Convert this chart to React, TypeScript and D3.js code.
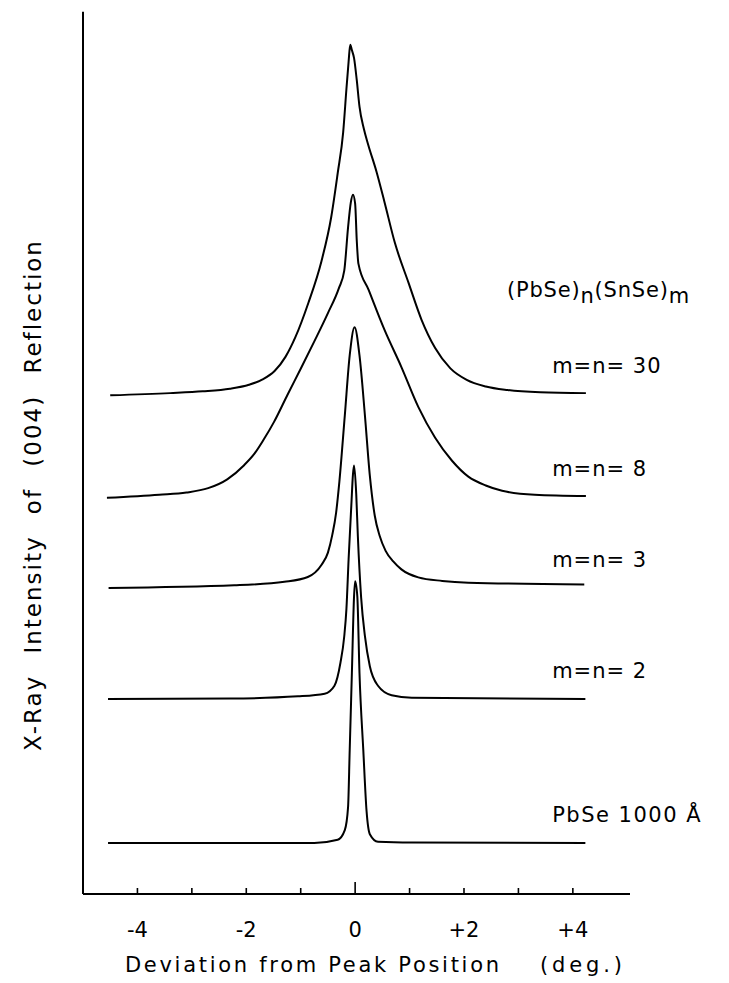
import React, { useEffect, useRef } from "react";
import * as d3 from "d3";

const WIDTH = 729;
const HEIGHT = 983;

// deviation from peak (deg) and intensity (arb. units)
const dev30 = [-4.5, -3.4, -2.8, -2.3, -1.95, -1.7, -1.48, -1.28, -1.1, -0.86, -0.62, -0.44, -0.32, -0.22, -0.16, -0.12, -0.09, -0.06, -0.02, 0.03, 0.08, 0.16, 0.24, 0.39, 0.54, 0.73, 0.98, 1.22, 1.47, 1.75, 2.05, 2.4, 2.8, 3.4, 4.24];
const int30 = [-0.15, 0.1, 0.3, 0.6, 1.05, 1.65, 2.6, 4.2, 6.4, 10.3, 15.0, 20.0, 25.0, 29.6, 34.5, 37.6, 39.5, 38.9, 38.0, 35.5, 32.5, 30.0, 28.2, 25.2, 21.7, 17.1, 12.6, 8.4, 5.2, 2.9, 1.6, 0.85, 0.45, 0.2, 0.1];

const dev8 = [-4.56, -3.6, -3.1, -2.7, -2.35, -2.04, -1.85, -1.68, -1.49, -1.24, -1.0, -0.75, -0.5, -0.3, -0.2, -0.13, -0.08, -0.04, 0.0, 0.03, 0.06, 0.25, 0.54, 0.85, 1.16, 1.47, 1.78, 2.08, 2.4, 2.7, 3.3, 4.24];
const int8 = [-0.1, 0.25, 0.5, 1.0, 2.0, 3.6, 4.9, 6.5, 8.5, 11.6, 14.5, 17.6, 20.8, 23.6, 25.6, 30.5, 33.3, 34.2, 33.2, 29.0, 26.4, 23.4, 18.9, 14.7, 10.2, 6.7, 4.1, 2.3, 1.3, 0.7, 0.25, 0.1];

const dev3 = [-4.53, -2.22, -1.3, -0.87, -0.62, -0.5, -0.42, -0.35, -0.29, -0.19, -0.1, -0.01, 0.08, 0.18, 0.27, 0.36, 0.45, 0.56, 0.7, 0.85, 1.16, 1.6, 2.08, 4.21];
const int3 = [0, 0.3, 0.7, 1.24, 2.6, 4.0, 6.0, 8.5, 12.0, 19.5, 26.3, 29.5, 26.3, 19.5, 12.7, 8.2, 5.9, 4.2, 3.0, 2.1, 1.2, 0.8, 0.6, 0.4];

const dev2 = [-4.54, -2.29, -1.05, -0.56, -0.38, -0.27, -0.2, -0.16, -0.12, -0.07, -0.04, -0.02, 0.02, 0.05, 0.11, 0.18, 0.27, 0.42, 0.67, 1.04, 4.23];
const int2 = [0, 0.05, 0.3, 0.6, 1.5, 4.1, 7.1, 10.2, 15.8, 21.9, 25.4, 26.4, 23.2, 18.4, 11.5, 7.1, 3.7, 1.5, 0.43, 0.15, 0];

const devPbSe = [-4.54, -0.75, -0.32, -0.19, -0.13, -0.1, -0.06, -0.02, 0.0, 0.04, 0.08, 0.15, 0.21, 0.27, 0.42, 1.04, 4.23];
const intPbSe = [0, 0, 0.36, 1.45, 4.05, 10.5, 19.2, 27.9, 29.6, 27.9, 19.2, 10.5, 3.6, 1.0, 0.15, 0.05, 0];

// vertical offset of each trace (same arb. units)
const offsets = [56.56, 44.91, 34.62, 22.06, 5.77];
const seriesNames = ["m=n= 30", "m=n= 8", "m=n= 3", "m=n= 2", "PbSe 1000 Å"];
const seriesDev = [dev30, dev8, dev3, dev2, devPbSe];
const seriesInt = [int30, int8, int3, int2, intPbSe];

const tickValues = [-4, -3, -2, -1, 0, 1, 2, 3, 4];
const tickLabels = ["-4", "", "-2", "", "0", "", "+2", "", "+4"];

export default function App() {
  const ref = useRef<SVGSVGElement>(null);

  useEffect(() => {
    const svg = d3.select(ref.current);
    svg.selectAll("*").remove();

    const font = "DejaVu Sans, sans-serif";
    const x = d3.scaleLinear().domain([-5, 5.05]).range([83, 630]);
    const y = d3.scaleLinear().domain([0, 100]).range([894, 10]);

    // axes frame
    svg.append("line")
      .attr("x1", x(-5)).attr("x2", x(-5))
      .attr("y1", y(99.8)).attr("y2", y(0))
      .attr("stroke", "#000").attr("stroke-width", 2);
    svg.append("line")
      .attr("x1", x(-5)).attr("x2", x(5.05))
      .attr("y1", y(0)).attr("y2", y(0))
      .attr("stroke", "#000").attr("stroke-width", 2);

    // ticks point up into the plot
    svg.selectAll(".tick")
      .data(tickValues)
      .enter()
      .append("line")
      .attr("class", "tick")
      .attr("x1", d => x(d)).attr("x2", d => x(d))
      .attr("y1", y(0))
      .attr("y2", d => y(0) - (d === 0 ? 12 : 6))
      .attr("stroke", "#000").attr("stroke-width", 1.6);

    svg.selectAll(".ticklabel")
      .data(tickValues)
      .enter()
      .append("text")
      .attr("class", "ticklabel")
      .attr("x", d => x(d))
      .attr("y", 937)
      .attr("text-anchor", "middle")
      .attr("font-family", font)
      .attr("font-size", 21)
      .text((d, i) => tickLabels[i]);

    // axis titles
    svg.append("text")
      .attr("x", 125).attr("y", 972)
      .attr("font-family", font).attr("font-size", 21)
      .attr("textLength", 374).attr("lengthAdjust", "spacing")
      .text("Deviation from Peak Position");
    svg.append("text")
      .attr("x", 540).attr("y", 972)
      .attr("font-family", font).attr("font-size", 21)
      .attr("textLength", 82).attr("lengthAdjust", "spacing")
      .text("(deg.)");
    svg.append("text")
      .attr("transform", "translate(41,495) rotate(-90)")
      .attr("text-anchor", "middle")
      .attr("font-family", font).attr("font-size", 23)
      .style("letter-spacing", "2px")
      .style("word-spacing", "12px")
      .text("X-Ray Intensity of (004) Reflection");

    // traces
    const line = d3.line<[number, number]>()
      .x(d => x(d[0]))
      .y(d => y(d[1]))
      .curve(d3.curveMonotoneX);

    seriesDev.forEach((devs, k) => {
      const pts = devs.map((d, i) => [d, seriesInt[k][i] + offsets[k]] as [number, number]);
      svg.append("path")
        .attr("d", line(pts))
        .attr("fill", "none")
        .attr("stroke", "#000")
        .attr("stroke-width", 2)
        .attr("stroke-linejoin", "round");

      svg.append("text")
        .attr("x", x(3.62))
        .attr("y", y(offsets[k]) - 21)
        .attr("font-family", font)
        .attr("font-size", 21)
        .attr("letter-spacing", k === 4 ? 1.5 : 1)
        .text(seriesNames[k]);
    });

    // header for the superlattice series
    const head = svg.append("text")
      .attr("x", 507).attr("y", 297)
      .attr("font-family", font).attr("font-size", 21)
      .attr("letter-spacing", 0.8);
    head.append("tspan").text("(PbSe)");
    head.append("tspan").attr("dy", 6).text("n");
    head.append("tspan").attr("dy", -6).text("(SnSe)");
    head.append("tspan").attr("dy", 6).text("m");
  }, []);

  return (
    <svg
      ref={ref}
      width={WIDTH}
      height={HEIGHT}
      style={{ position: "absolute", left: 0, top: 0, background: "#fff" }}
    />
  );
}
